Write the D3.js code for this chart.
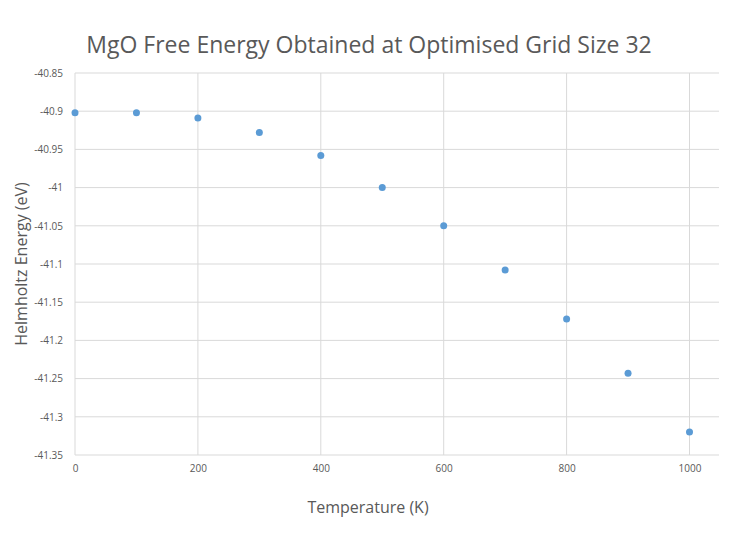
<!DOCTYPE html>
<html>
<head>
<meta charset="utf-8">
<script src="https://cdn.jsdelivr.net/npm/d3@7"></script>
<style>
  body { margin: 0; background: #fff; }
  text { font-family: "Open Sans", sans-serif; }
</style>
</head>
<body>
<div id="chart"></div>
<script>
// values
var temperature = [0, 100, 200, 300, 400, 500, 600, 700, 800, 900, 1000];
var energy = [-40.902, -40.902, -40.909, -40.928, -40.958, -41.000, -41.050, -41.108, -41.172, -41.243, -41.320];
var xTicks = [0, 200, 400, 600, 800, 1000];
var yTicks = [-40.85, -40.9, -40.95, -41, -41.05, -41.1, -41.15, -41.2, -41.25, -41.3, -41.35];

var svgWidth = 738;
var svgHeight = 539;

var margin = { top: 73, right: 19, bottom: 84, left: 75 };
var width = svgWidth - margin.left - margin.right;
var height = svgHeight - margin.top - margin.bottom;

var svg = d3.select("#chart")
  .append("svg")
  .attr("width", svgWidth)
  .attr("height", svgHeight);

var chartGroup = svg.append("g")
  .attr("transform", `translate(${margin.left}, ${margin.top})`);

var xScale = d3.scaleLinear().domain([0, 1048]).range([0, width]);
var yScale = d3.scaleLinear().domain([-41.35, -40.85]).range([height, 0]);

// gridlines
chartGroup.append("g")
  .selectAll("line")
  .data(yTicks)
  .enter()
  .append("line")
  .attr("x1", 0)
  .attr("x2", width)
  .attr("y1", d => yScale(d))
  .attr("y2", d => yScale(d))
  .attr("stroke", "#d9d9d9")
  .attr("stroke-width", 1);

chartGroup.append("g")
  .selectAll("line")
  .data(xTicks)
  .enter()
  .append("line")
  .attr("x1", d => xScale(d))
  .attr("x2", d => xScale(d))
  .attr("y1", 0)
  .attr("y2", height)
  .attr("stroke", "#d9d9d9")
  .attr("stroke-width", 1);

// axes (labels only, Excel style)
var xAxis = d3.axisBottom(xScale).tickValues(xTicks).tickSize(0).tickPadding(10)
  .tickFormat(d => String(d));
var yAxis = d3.axisLeft(yScale).tickValues(yTicks).tickSize(0).tickPadding(12)
  .tickFormat(d => String(+d.toFixed(2)));

var xg = chartGroup.append("g")
  .attr("transform", `translate(0, ${height})`)
  .call(xAxis);
var yg = chartGroup.append("g").call(yAxis);

[xg, yg].forEach(function(g) {
  g.select(".domain").remove();
  g.selectAll("text")
    .attr("fill", "#595959")
    .style("font-size", "10px")
    .style("font-family", "'Open Sans', sans-serif");
});

// points
chartGroup.selectAll("circle")
  .data(temperature)
  .enter()
  .append("circle")
  .attr("cx", (d, i) => xScale(d))
  .attr("cy", (d, i) => yScale(energy[i]))
  .attr("r", 3.5)
  .attr("fill", "#5b9bd5");

// title
svg.append("text")
  .attr("x", 369)
  .attr("y", 53)
  .attr("text-anchor", "middle")
  .attr("fill", "#595959")
  .style("font-size", "23px")
  .text("MgO Free Energy Obtained at Optimised Grid Size 32");

// axis labels
svg.append("text")
  .attr("transform", `translate(27, ${margin.top + height / 2}) rotate(-90)`)
  .attr("text-anchor", "middle")
  .attr("fill", "#595959")
  .style("font-size", "16px")
  .text("Helmholtz Energy (eV)");

svg.append("text")
  .attr("x", 368)
  .attr("y", 513)
  .attr("text-anchor", "middle")
  .attr("fill", "#595959")
  .style("font-size", "16px")
  .text("Temperature (K)");
</script>
</body>
</html>
